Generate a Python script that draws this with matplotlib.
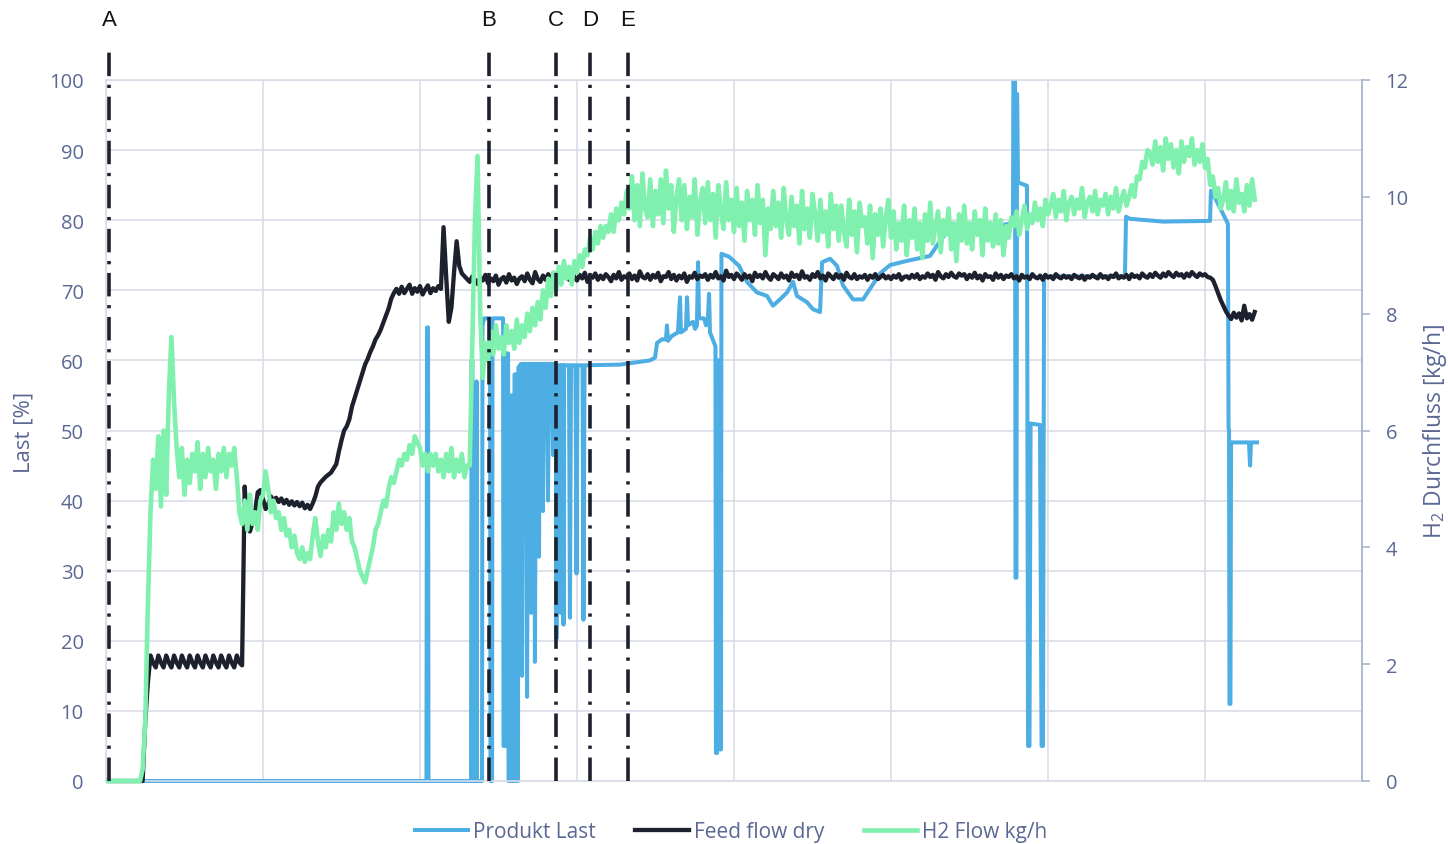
import numpy as np
import matplotlib
matplotlib.use("Agg")
import matplotlib.pyplot as plt
from matplotlib.transforms import Bbox, TransformedBbox

# ---------------------------------------------------------------- data
# Feed flow and H2 flow are logged once per minute
SAMPLE_STEP_H = 1 / 60

# Feed flow dry [%]
feed_flow = [
    0, 0, 0, 0, 0, 0, 0, 0, 0, 0, 0, 0, 0, 0, 0,
    8.5, 14.0,
    17.9, 16.9, 16.2, 17.9, 16.9, 16.2, 17.9, 16.9, 16.2, 17.9, 16.9, 16.2,
    17.9, 16.9, 16.2, 17.9, 16.9, 16.2, 17.9, 16.9, 16.2, 17.9, 16.9, 16.2,
    17.9, 16.9, 16.2, 17.9, 16.9, 16.2, 17.9, 16.9, 16.2, 17.9, 16.9,
    16.5,
    42.0, 36.0, 35.6, 36.8, 38.5, 41.2, 41.5, 40.2, 38.8, 39.5,
    40.6, 40.0, 40.4, 39.8, 40.3, 39.6, 40.1, 39.4, 39.9, 39.3,
    39.8, 39.2, 39.7, 38.9, 39.4, 38.8, 39.6, 40.6, 42.0, 42.6,
    43.0, 43.4, 43.7, 44.0, 44.6, 45.2, 47.0, 48.6, 50.0, 50.6,
    51.6, 53.4, 54.6, 55.8, 57.0, 58.2, 59.4, 60.2, 61.2, 62.0,
    63.0, 63.6, 64.4, 65.4, 66.4, 67.4, 68.8, 69.6, 70.2, 69.5,
    70.5, 69.6, 70.2, 70.8, 69.5, 70.3, 69.8, 70.6, 69.4, 70.1,
    70.7, 69.6, 70.3, 69.9, 70.6,
    70.2, 79.0, 72.0, 65.5, 67.5, 72.5, 77.0, 73.5, 72.4, 72.0, 71.6,
    71.2, 72.0, 71.5, 70.9, 71.8, 71.4, 72.2, 71.0, 71.7, 71.3,
    72.1, 70.8, 71.6, 71.9, 71.1, 72.3, 71.4, 71.8, 70.9, 71.7,
    72.0, 71.3, 72.4, 71.5, 71.0, 72.6, 71.6, 71.2, 72.1, 71.5,
    72.3, 71.1, 72.5, 71.7, 72.0, 71.3, 72.4, 71.8, 71.5, 72.6,
    71.9, 71.4, 72.2, 71.7, 72.5, 71.2, 72.0, 71.8, 72.4, 71.5,
    72.1, 71.6, 72.3, 71.9, 71.3, 72.2, 71.7, 72.6, 71.5, 72.0,
    71.8, 72.4, 71.6, 72.1, 71.4, 72.7, 71.9, 71.7, 72.3, 71.5,
    72.2, 71.8, 72.5, 71.3, 72.0, 71.9, 72.6, 71.6, 72.2, 71.4,
    72.1, 71.7, 72.4, 71.2, 72.0, 71.8, 72.5, 71.6, 72.1, 71.9,
    72.3, 71.5, 72.2, 71.8, 72.6, 71.7, 72.0, 71.4, 72.8, 71.9,
    72.2, 71.6, 72.4, 72.0, 71.5, 72.3, 71.8, 72.1, 71.3, 72.5,
    71.9, 72.2, 71.7, 72.6, 71.9, 71.5, 72.3, 72.0, 71.6, 72.4,
    71.8, 72.1, 71.4, 72.5, 71.9, 72.2, 71.6, 72.7, 71.8, 72.0,
    71.5, 72.3, 71.9, 72.6, 71.7, 72.1, 71.4, 72.4, 72.0, 71.6,
    72.3, 71.8, 72.2, 71.5, 72.5, 71.9, 71.7, 72.3, 71.6, 72.0,
    71.8, 72.2, 71.5, 72.1, 71.8, 72.3, 71.6, 71.9, 72.2, 71.7,
    72.0, 71.6, 72.1, 71.8, 72.3, 71.5, 71.9, 72.0, 71.7, 72.2,
    71.8, 72.3, 71.6, 72.0, 71.8, 72.4, 71.9, 72.2, 71.5, 72.6,
    72.0, 71.7, 72.3, 71.9, 72.5, 72.0, 71.8, 72.4, 72.1, 72.3,
    71.6, 72.2, 71.8, 72.5, 71.7, 72.1, 71.4, 72.3, 71.9, 72.0,
    71.5, 72.4, 71.8, 72.2, 71.6, 72.1, 71.9, 72.3, 71.7, 72.0,
    71.4, 72.2, 71.8, 72.0, 71.6, 72.3, 71.9, 71.7, 72.1, 71.5,
    72.2, 71.8, 72.0, 71.6, 72.3, 71.9, 71.7, 72.1, 71.8, 72.0,
    71.6, 72.2, 71.9, 71.7, 72.1, 71.5, 72.0, 71.8, 72.2, 71.9,
    71.7, 72.3, 71.8, 72.0, 71.6, 72.1, 71.9, 72.4, 71.7, 72.0,
    71.8, 72.2, 71.6, 72.3, 71.9, 72.1, 71.7, 72.4, 72.0, 71.8,
    72.3, 71.9, 72.5, 72.1, 71.8, 72.4, 72.0, 72.6, 72.2, 71.9,
    72.5, 72.1, 72.3, 71.8, 72.4, 72.0, 72.6, 72.2, 71.9, 72.4,
    72.1, 72.3, 71.9,
    71.8, 71.5, 70.6, 69.6, 68.6, 67.8, 67.0, 66.4,
    65.9, 66.8, 66.1, 66.7, 65.7, 67.8, 66.0, 66.6, 65.8, 66.9,
]

# H2 flow [kg/h]
h2_flow = [
    0, 0, 0, 0, 0, 0, 0, 0, 0, 0, 0, 0, 0, 0,
    0.2, 1.0, 3.0, 4.6, 5.5, 5.0, 5.9, 4.7, 6.0, 4.9, 6.6, 7.6, 6.5, 5.7,
    5.2, 5.7, 4.9, 5.5, 5.1, 5.6, 5.3, 5.8, 5.0, 5.6,
    5.2, 5.7, 5.3, 5.5, 5.0, 5.6, 5.3, 5.7, 5.2, 5.6, 5.4, 5.7,
    5.2, 4.6, 4.4, 4.8, 4.3, 4.9, 4.4, 4.6, 4.3, 4.8,
    4.9, 5.3, 5.0, 4.6, 4.8, 4.5, 4.6, 4.3, 4.5, 4.2,
    4.3, 4.0, 4.2, 3.9, 3.8, 4.0, 3.75, 3.9, 3.8, 4.2,
    4.5, 4.1, 3.85, 4.2, 4.0, 4.3, 4.1, 4.6, 4.3, 4.75,
    4.4, 4.6, 4.3, 4.5, 4.1, 4.0, 3.8, 3.6, 3.5, 3.4,
    3.6, 3.8, 4.0, 4.3, 4.4, 4.6, 4.8, 4.7, 5.0, 5.2,
    5.1, 5.3, 5.5, 5.4, 5.6, 5.5, 5.75, 5.6, 5.9, 5.8,
    5.7, 5.4, 5.6, 5.3, 5.6, 5.4, 5.6, 5.3, 5.5, 5.2,
    5.6, 5.3, 5.7, 5.2, 5.5, 5.3, 5.6, 5.2, 5.4, 5.4,
    7.5, 9.6, 10.7, 8.0, 6.9, 7.5, 7.2, 7.7, 7.3, 7.8,
    7.4, 7.6, 7.3, 7.8, 7.5, 7.7, 7.4, 7.9, 7.5, 7.8,
    7.6, 8.0, 7.7, 8.1, 7.8, 8.2, 7.9, 8.4, 8.1, 8.6,
    8.3, 8.7, 8.4, 8.8, 8.5, 8.9, 8.6, 8.8, 8.5, 8.9,
    8.7, 9.0, 8.8, 9.1, 9.0, 9.3, 9.1, 9.4, 9.2, 9.5,
    9.3, 9.5, 9.4, 9.7, 9.4, 9.8, 9.6, 9.9, 9.7, 10.1,
    9.8,
    10.35, 9.6, 10.2, 9.5, 10.4, 9.8, 9.65, 10.3, 9.5, 10.1,
    9.7, 10.3, 9.55, 10.45, 9.8, 10.2, 9.4, 10.0, 10.3, 9.6,
    10.2, 9.45, 10.0, 9.65, 10.3, 9.35, 9.9, 10.15, 9.55, 10.25,
    9.6, 10.05, 9.3, 10.2, 9.75, 9.45, 10.25, 9.6, 9.95, 9.4,
    10.15, 9.5, 9.9, 9.25, 10.1, 9.6, 9.95, 9.35, 10.2, 9.55,
    9.95, 9.0, 9.8, 9.45, 10.1, 9.5, 9.9, 9.3, 10.15, 9.6,
    9.35, 10.0, 9.5, 9.85, 9.2, 10.1, 9.45, 9.8, 9.3, 10.05,
    9.7, 9.25, 9.95, 9.4, 9.75, 9.15, 10.05, 9.45, 9.85, 9.25,
    9.85, 9.4, 9.15, 9.95, 9.35, 9.75, 9.05, 9.9, 9.5, 9.65,
    9.2, 9.85, 8.95, 9.7, 9.35, 9.8, 9.15, 9.65, 9.95, 9.3,
    9.75, 9.1, 9.55, 9.25, 9.85, 9.0, 9.6, 9.3, 9.8, 9.1,
    9.55, 8.95, 9.7, 9.25, 9.9, 9.2, 9.5, 9.75, 9.05, 9.6,
    9.35, 9.8, 9.1, 9.55, 8.9, 9.7, 9.25, 9.85, 9.2, 9.55,
    9.1, 9.75, 9.35, 9.6, 9.0, 9.8, 9.25, 9.55, 9.15, 9.7,
    9.2, 9.6, 9.0, 9.5, 9.3, 9.65,
    9.5, 9.75, 9.35, 9.6, 9.85, 9.45, 9.7, 9.55, 9.9, 9.6, 9.8, 9.5, 9.95, 9.7,
    9.85, 10.05, 9.65, 9.95, 9.75, 10.1, 9.6, 9.9, 10.0, 9.7,
    9.95, 9.8, 10.15, 9.65, 9.9, 10.0, 9.75, 10.1, 9.7, 9.95,
    9.85, 10.05, 9.7, 10.0, 9.8, 10.15, 9.75, 9.95, 10.1, 9.85, 10.0,
    10.2, 10.0, 10.35, 10.3, 10.6, 10.5, 10.8, 10.75,
    10.55, 10.95, 10.6, 10.85, 10.45, 11.0, 10.65, 10.9, 10.5, 10.8,
    10.4, 10.95, 10.6, 10.85, 10.7, 11.0, 10.55, 10.8, 10.6, 10.9,
    10.5, 10.65, 10.2, 10.35, 10.0, 10.15, 9.8, 9.95,
    10.25, 9.8, 10.1, 9.75, 10.3, 9.9, 10.05, 9.75, 10.2, 9.85, 10.3, 9.95,
]

# Produkt Last [%] (event-driven, irregular time stamps in h)
last_t = [
    0.000, 2.041, 2.045, 2.051, 2.054,
    2.325, 2.328, 2.334, 2.338, 2.357, 2.360, 2.363, 2.395, 2.398, 2.408,
    2.446, 2.449, 2.459, 2.462,
    2.529, 2.532, 2.548, 2.551, 2.561, 2.564, 2.573, 2.576, 2.586, 2.589,
    2.599, 2.602, 2.612, 2.615, 2.624, 2.627,
    2.643, 2.650, 2.656, 2.675, 2.682, 2.688, 2.701, 2.707, 2.713, 2.726,
    2.732, 2.739, 2.752, 2.758, 2.764, 2.777, 2.783, 2.790, 2.809, 2.815,
    2.822, 2.841, 2.847, 2.854,
    2.866, 2.869, 2.873, 2.892, 2.895, 2.898, 2.911, 2.914, 2.917, 2.949,
    2.955, 2.962, 2.990, 2.997, 3.003, 3.035, 3.041, 3.048,
    3.274, 3.465, 3.497, 3.510, 3.541, 3.567, 3.573, 3.580, 3.605, 3.643,
    3.656, 3.662, 3.694, 3.701, 3.707, 3.739, 3.752, 3.764, 3.771, 3.777,
    3.809, 3.822, 3.834, 3.841, 3.847, 3.873, 3.882, 3.885, 3.892, 3.898,
    3.908, 3.911, 3.917,
    3.920, 3.968, 4.032, 4.083, 4.146, 4.210, 4.248, 4.293, 4.338, 4.376,
    4.401, 4.465, 4.503, 4.548, 4.561, 4.612, 4.656, 4.694, 4.758, 4.822,
    4.866, 4.930, 4.994, 5.102, 5.248, 5.344, 5.758,
    5.777, 5.780, 5.790, 5.793, 5.799, 5.803, 5.809, 5.866, 5.873, 5.882,
    5.889, 5.949, 5.959, 5.968, 5.975,
    6.490, 6.497, 6.522, 6.733, 7.032, 7.038, 7.057, 7.115, 7.146, 7.150,
    7.153, 7.156, 7.162, 7.166, 7.280, 7.287, 7.293, 7.331,
]
last_pct = [
    0, 0, 64.7, 64.7, 0,
    0, 60, 60, 0, 0, 57, 0, 0, 65, 66,
    66, 0, 0, 66,
    66, 5, 5, 61, 61, 0, 0, 55, 55, 0,
    0, 58, 58, 0, 0, 59,
    59.5, 15, 59.5, 59.5, 12, 59.5, 59.5, 24, 59.5, 59.5,
    17, 59.5, 59.5, 32, 59.5, 59.5, 38.5, 59.5, 59.5, 40,
    59.5, 59.5, 46.5, 59.5,
    59.3, 20.3, 59.3, 59.3, 24, 59.3, 59.3, 22.3, 59.3, 59.3,
    23.3, 59.3, 59.3, 29.6, 59.3, 59.3, 23, 59.3,
    59.4, 60.0, 60.4, 62.5, 63, 63, 65, 62.8, 63.5, 64,
    69, 64, 64.5, 69, 65, 65.5, 64.5, 65, 74, 66,
    66, 65, 66, 69.5, 64, 62.5, 62, 4, 4, 60,
    60, 4.5, 4.5,
    75.2, 74.8, 73.5, 71.2, 69.7, 69.2, 67.8, 68.7, 69.7, 71.2,
    69.2, 68.3, 67.3, 66.9, 74, 74.5, 73.5, 70.7, 68.7, 68.7,
    70.2, 72.4, 73.6, 74.2, 74.9, 78.0, 79.5,
    80, 104, 104, 29, 29, 98, 85.4, 84.9, 5, 5,
    51, 50.8, 5, 5, 72,
    72.0, 80.5, 80.2, 79.8, 79.9, 84.2, 83.5, 80.9, 79.5, 50.5,
    50, 11, 11, 48.3, 48.3, 45, 48.3, 48.3,
]

# Process phases
event_labels = ["A", "B", "C", "D", "E"]
event_times = [0.019, 2.439, 2.866, 3.083, 3.325]

series_labels = ["Produkt Last", "Feed flow dry", "H2 Flow kg/h"]

# ---------------------------------------------------------------- style
BLUE = "#4DAEE3"
NAVY = "#1D212D"
GREEN = "#7FF0AE"
TEXT = "#5A6893"
GRID = "#D9DBE8"
AXIS = "#A9B4CD"

plt.rcParams["font.family"] = ["Open Sans", "DejaVu Sans"]
plt.rcParams["mathtext.fontset"] = "custom"
plt.rcParams["mathtext.rm"] = "Open Sans"

W, H = 1448, 845
fig = plt.figure(figsize=(W / 100, H / 100), dpi=100)
ax = fig.add_axes([106 / W, 1 - 782 / H, (1362 - 106) / W, (782 - 81) / H])
ax2 = ax.twinx()

t_feed = np.arange(len(feed_flow)) * SAMPLE_STEP_H
t_h2 = np.arange(len(h2_flow)) * SAMPLE_STEP_H

l1, = ax.plot(last_t, last_pct, color=BLUE, lw=2.9, zorder=2,
              solid_joinstyle="round", label=series_labels[0])
l2, = ax.plot(t_feed, feed_flow, color=NAVY, lw=3.1, zorder=3,
              solid_joinstyle="round", label=series_labels[1])
l3, = ax2.plot(t_h2, h2_flow, color=GREEN, lw=3.3, zorder=2,
               solid_joinstyle="round", label=series_labels[2])

# let the lines at zero keep their full width on the bottom edge
for line, a in ((l1, ax), (l2, ax), (l3, ax2)):
    line.set_clip_box(TransformedBbox(Bbox([[0, -0.01], [1, 1]]), a.transAxes))

ax.set_xlim(0, 8)
ax.set_ylim(0, 100)
ax2.set_ylim(0, 12)

ax.set_xticks(range(9))
ax.set_xticklabels([])
ax.tick_params(axis="x", length=0)
ax.set_yticks(range(0, 101, 10))
ax.tick_params(axis="y", length=0, pad=16, labelsize=14.5, labelcolor=TEXT)
ax2.set_yticks(range(0, 13, 2))
ax2.tick_params(axis="y", length=6, width=1.2, color=AXIS, pad=11,
                labelsize=14.5, labelcolor=TEXT, direction="out")

ax.grid(True, color=GRID, lw=1.2)
ax.set_axisbelow(True)
for s in ("left", "top", "bottom"):
    ax.spines[s].set_color(GRID)
    ax.spines[s].set_linewidth(1.2)
    ax2.spines[s].set_visible(False)
ax.spines["right"].set_visible(False)
ax2.spines["right"].set_color(AXIS)
ax2.spines["right"].set_linewidth(1.3)

# phase markers with letters above the plot area
for lab, tm in zip(event_labels, event_times):
    ax2.axvline(tm, ymin=0, ymax=1.052, color=NAVY, lw=2.6,
                ls=(0, (6.5, 2.4, 0.9, 2.4)), clip_on=False, zorder=5)
    ax2.text(tm, 1.087, lab, transform=ax2.get_xaxis_transform(),
             ha="center", va="center", fontsize=16, color="#111111",
             family=["Liberation Sans", "DejaVu Sans"])

fig.text(24 / W, 1 - 432 / H, "Last [%]", rotation=90, ha="center",
         va="center", fontsize=16, color=TEXT)
fig.text(1435 / W, 1 - 431 / H, r"H$\mathregular{_2}$ Durchfluss [kg/h]",
         rotation=90, ha="center", va="center", fontsize=16.5, color=TEXT)

fig.legend(handles=[l1, l2, l3], labels=series_labels, loc="center",
           bbox_to_anchor=(731 / W, 1 - 833 / H), ncol=3, frameon=False,
           fontsize=15, handlelength=2.55, handletextpad=0.25,
           columnspacing=1.9, labelcolor=TEXT)

fig.savefig("out.png", dpi=100)
